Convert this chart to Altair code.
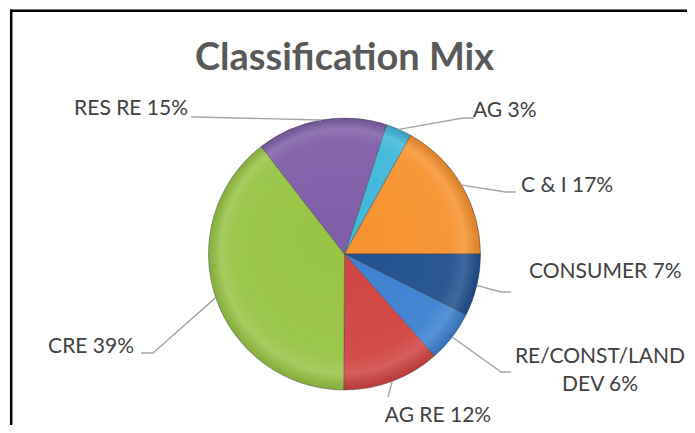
import math
import altair as alt
import pandas as pd

# ---- data ----
categories = ["AG", "C & I", "CONSUMER", "RE/CONST/LAND DEV", "AG RE", "CRE", "RES RE"]
values = [3.1, 16.9, 7.4, 6.1, 11.6, 39.4, 15.5]
labels = ["AG 3%", "C & I 17%", "CONSUMER 7%", "RE/CONST/LAND\nDEV 6%", "AG RE 12%", "CRE 39%", "RES RE 15%"]
colors = ["#3fb7da", "#f7922e", "#1f4f8e", "#3b80d0", "#d04240", "#97c444", "#7f5ea8"]

# ---- layout (chart pixel coordinates) ----
CX, CY, R = 335.5, 246.0, 136.0
START_DEG = 18.0
label_x = [464, 512, 520, 591, 429, 125, 179]
label_y = [103, 178, 264, 349, 408, 339, 101]
label_align = ["left", "left", "left", "center", "center", "right", "right"]
elbow_x = [454, 497, 492, 492, 379, 144, 187]
elbow_y = [110, 184, 284, 364, 389, 345, 109]
end_x = [465, 507, 502, 502, 379, 132, 182]
end_y = [110, 184, 284, 364, 389, 345, 109]

total = sum(values)
order = list(range(len(categories)))
df = pd.DataFrame({"category": categories, "value": values, "label": labels, "order": order})

# leader line points: slice side derived from data angles
rows = []
cum = 0.0
for i, (c, v) in enumerate(zip(categories, values)):
    mid = START_DEG + (cum + v / 2) / total * 360.0
    cum += v
    a = math.radians(mid)
    sx, sy = CX + R * math.sin(a), CY - R * math.cos(a)
    rows += [
        {"category": c, "step": 0, "px": sx, "py": sy},
        {"category": c, "step": 1, "px": elbow_x[i], "py": elbow_y[i]},
        {"category": c, "step": 2, "px": end_x[i], "py": end_y[i]},
    ]
lines_df = pd.DataFrame(rows)

lab_df = pd.DataFrame({"label": labels, "lx": label_x, "ly": label_y, "align": label_align})

start = math.radians(START_DEG)

pie = alt.Chart(df).mark_arc(outerRadius=R, stroke="#3a3a3a", strokeWidth=0.7, strokeOpacity=0.6).encode(
    theta=alt.Theta("value:Q", stack=True,
                    scale=alt.Scale(domain=[0, total], range=[start, start + 2 * math.pi])),
    color=alt.Color("category:N", sort=categories,
                    scale=alt.Scale(domain=categories, range=colors), legend=None),
    order=alt.Order("order:Q"),
    x=alt.value(CX), y=alt.value(CY),
)

shade = alt.Chart(pd.DataFrame({"k": [0]})).mark_arc(
    outerRadius=R, theta=0, theta2=2 * math.pi,
    fill=alt.Gradient(
        gradient="radial", x1=0.45, y1=0.4, r1=0, x2=0.5, y2=0.5, r2=0.5,
        stops=[
            alt.GradientStop(color="rgba(255,255,255,0.0)", offset=0),
            alt.GradientStop(color="rgba(255,255,255,0.05)", offset=0.8),
            alt.GradientStop(color="rgba(255,255,255,0.15)", offset=0.9),
            alt.GradientStop(color="rgba(0,0,0,0.12)", offset=1),
        ],
    ),
).encode(x=alt.value(CX), y=alt.value(CY))

leaders = alt.Chart(lines_df).mark_line(color="#a5a5a5", strokeWidth=1.4).encode(
    x=alt.X("px:Q", scale=None),
    y=alt.Y("py:Q", scale=None),
    detail="category:N",
    order="step:Q",
)

def text_layer(al):
    return alt.Chart(lab_df).transform_filter(alt.datum.align == al).mark_text(
        font="Lato", fontSize=21, color="#404040", align=al, baseline="middle",
        lineBreak="\n", lineHeight=28,
    ).encode(
        x=alt.X("lx:Q", scale=None),
        y=alt.Y("ly:Q", scale=None),
        text="label:N",
    )

texts = text_layer("left") + text_layer("center") + text_layer("right")

title = alt.Chart(pd.DataFrame({"t": ["Classification Mix"]})).mark_text(
    font="Lato", fontSize=38, fontWeight="bold", color="#595959", align="center", baseline="middle"
).encode(x=alt.value(CX), y=alt.value(51), text="t:N")

frame_v = alt.Chart(pd.DataFrame({"k": [0]})).mark_rule(color="black", strokeWidth=2.5).encode(
    x=alt.value(2.2), y=alt.value(1.5), y2=alt.value(430))
frame_h = alt.Chart(pd.DataFrame({"k": [0]})).mark_rule(color="black", strokeWidth=2.5).encode(
    x=alt.value(1), x2=alt.value(690), y=alt.value(2.7))

chart = alt.layer(pie, shade, leaders, texts, title, frame_v, frame_h).properties(
    width=679, height=417,
    autosize=alt.AutoSizeParams(type="fit", contains="padding"),
    padding=0,
).configure_view(stroke=None)

chart.save("out.html", embed_options={"renderer": "svg", "actions": False})
